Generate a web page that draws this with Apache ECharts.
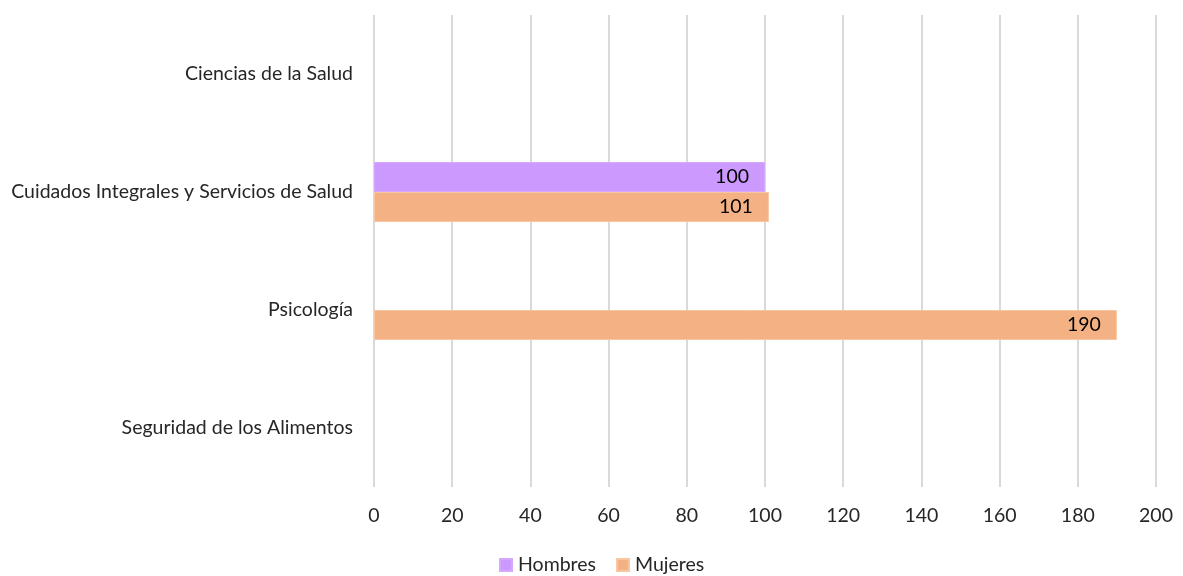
<!DOCTYPE html>
<html>
<head>
<meta charset="utf-8">
<script src="https://cdn.jsdelivr.net/npm/echarts@6/dist/echarts.min.js"></script>
<style>
html,body{margin:0;padding:0;background:#fff;}
#c{width:1183px;height:576px;}
</style>
</head>
<body>
<div id="c"></div>
<script>
const categories = ["Ciencias de la Salud", "Cuidados Integrales y Servicios de Salud", "Psicología", "Seguridad de los Alimentos"];
const hombres = [null, 100, null, null];
const mujeres = [null, 101, 190, null];
const seriesNames = ["Hombres", "Mujeres"];

const FONT = "Lato, 'Open Sans', sans-serif";
const FS = 19.5;
const chart = echarts.init(document.getElementById('c'), null, {renderer: 'canvas'});
chart.setOption({
  animation: false,
  backgroundColor: '#ffffff',
  textStyle: {fontFamily: FONT},
  grid: {left: 374, right: 27, top: 15, bottom: 89},
  legend: {
    data: seriesNames,
    top: 550,
    left: 494,
    itemWidth: 12,
    itemHeight: 12,
    itemGap: 20,
    icon: 'rect',
    textStyle: {fontSize: FS, color: '#262626', fontFamily: FONT, padding: [0,0,0,1]}
  },
  xAxis: {
    type: 'value',
    min: 0, max: 200, interval: 20,
    axisLine: {show: false},
    axisTick: {show: false},
    splitLine: {lineStyle: {color: '#d9d9d9', width: 2}},
    axisLabel: {fontSize: FS, color: '#262626', margin: 19, fontFamily: FONT}
  },
  yAxis: {
    type: 'category',
    data: categories,
    inverse: true,
    axisLine: {show: false},
    axisTick: {show: false},
    axisLabel: {fontSize: FS, color: '#262626', margin: 21, fontFamily: FONT}
  },
  series: [
    {
      name: seriesNames[0], type: 'bar', data: hombres,
      barWidth: 30, barGap: '0%',
      itemStyle: {color: '#cc99ff', borderColor: '#d4a8ff', borderWidth: 1},
      label: {show: true, position: 'insideRight', color: '#000', fontSize: FS, distance: 16, fontFamily: FONT}
    },
    {
      name: seriesNames[1], type: 'bar', data: mujeres,
      barWidth: 30, barGap: '0%',
      itemStyle: {color: '#f4b183', borderColor: '#f7c7a4', borderWidth: 1},
      label: {show: true, position: 'insideRight', color: '#000', fontSize: FS, distance: 16, fontFamily: FONT}
    }
  ]
});
</script>
</body>
</html>
